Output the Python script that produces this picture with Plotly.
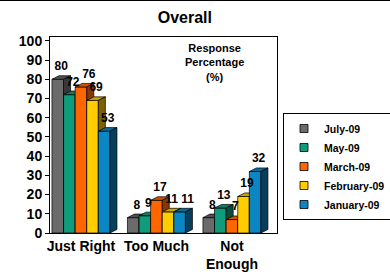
import plotly.graph_objects as go

categories = ["Just Right", "Too Much", "Not Enough"]
tick_labels = ["Just Right", "Too Much", "Not<br>Enough"]
series_names = ["July-09", "May-09", "March-09", "February-09", "January-09"]
july = [80, 8, 8]
may = [72, 9, 13]
march = [76, 17, 7]
february = [69, 11, 19]
january = [53, 11, 32]
series_values = [july, may, march, february, january]

front_colors = ["#6b6b6b", "#0f9b7c", "#ff6600", "#ffcc00", "#0a86c2"]
top_colors = ["#505050", "#0c7c63", "#cc5200", "#cca300", "#086b9b"]
side_colors = ["#383838", "#074d3e", "#8a3700", "#7a6200", "#053f5c"]

BAR_W = 0.1536
GROUP_START = -2.5 * BAR_W
DX = 0.093
DY = 1.85
FONT = "Arial, Liberation Sans, sans-serif"

# approximate pixel scale of the axes (for label collision avoidance)
PX_X = 75.5
PX_Y = 1.92

fig = go.Figure()

for k, (name, vals) in enumerate(zip(series_names, series_values)):
    fx, fy, tx, ty, sx, sy = [], [], [], [], [], []
    for i, v in enumerate(vals):
        x0 = i + GROUP_START + k * BAR_W
        x1 = x0 + BAR_W
        fx += [x0, x0, x1, x1, x0, None]
        fy += [0, v, v, 0, 0, None]
        tx += [x0, x0 + DX, x1 + DX, x1, x0, None]
        ty += [v, v + DY, v + DY, v, v, None]
        sx += [x1, x1 + DX, x1 + DX, x1, x1, None]
        sy += [0, DY, v + DY, v, 0, None]
    line = dict(color="black", width=0.7)
    fig.add_trace(go.Scatter(x=fx, y=fy, fill="toself", mode="lines", line=line,
                             fillcolor=front_colors[k], name=name, legendgroup=name,
                             showlegend=False, hoverinfo="skip"))
    fig.add_trace(go.Scatter(x=tx, y=ty, fill="toself", mode="lines", line=line,
                             fillcolor=top_colors[k], showlegend=False, legendgroup=name,
                             hoverinfo="skip"))
    fig.add_trace(go.Scatter(x=sx, y=sy, fill="toself", mode="lines", line=line,
                             fillcolor=side_colors[k], showlegend=False, legendgroup=name,
                             hoverinfo="skip"))

# value labels with simple collision avoidance (shift right on overlap)
label_x = [[0] * len(categories) for _ in series_names]
label_y = [[0] * len(categories) for _ in series_names]
for i in range(len(categories)):
    placed = []
    for k, vals in enumerate(series_values):
        v = vals[i]
        txt = str(v)
        w = (len(txt) * 7 + 1) / PX_X
        h = 11 / PX_Y
        cx = i + GROUP_START + (k + 0.5) * BAR_W + DX * 0.5
        yb = v + DY + 3 / PX_Y
        moved = True
        while moved:
            moved = False
            for (l, r, b, t) in placed:
                if cx - w / 2 < r and cx + w / 2 > l and yb < t and yb + h > b:
                    cx = r + w / 2 + 1 / PX_X
                    moved = True
        placed.append((cx - w / 2, cx + w / 2, yb, yb + h))
        label_x[k][i] = cx
        label_y[k][i] = yb + h / 2

for k, vals in enumerate(series_values):
    fig.add_trace(go.Scatter(x=label_x[k], y=label_y[k], mode="text",
                             text=[str(v) for v in vals], textposition="middle center",
                             textfont=dict(family=FONT, size=12, color="black", weight="bold"),
                             showlegend=False, hoverinfo="skip"))

# legend entries (small square swatches)
for k, name in enumerate(series_names):
    fig.add_trace(go.Scatter(x=[None], y=[None], mode="markers", name=name,
                             legendgroup=name,
                             marker=dict(symbol="square", size=8, color=front_colors[k],
                                         line=dict(color="black", width=0.8))))

fig.update_layout(
    width=390, height=278,
    margin=dict(l=50, r=113, t=37, b=45, autoexpand=False),
    paper_bgcolor="white", plot_bgcolor="white",
    font=dict(family=FONT, color="black"),
    title=dict(text="Overall", x=0.474, xanchor="center", y=1 - 17 / 278, yanchor="middle",
               font=dict(family=FONT, size=16, color="black", weight="bold")),
    xaxis=dict(range=[-0.41, 2.597], tickvals=[0, 1, 2], ticktext=tick_labels,
               tickangle=0, automargin=False,
               showgrid=False, zeroline=False, showline=True, linecolor="black",
               linewidth=1, mirror=True, ticks="",
               tickfont=dict(family=FONT, size=14, color="black", weight="bold")),
    yaxis=dict(range=[0, 102], tickvals=list(range(0, 101, 10)), automargin=False,
               showgrid=False, zeroline=False, showline=True, linecolor="black",
               linewidth=1, mirror=True, ticks="outside", ticklen=4, tickcolor="black",
               tickfont=dict(family=FONT, size=14, color="black", weight="bold")),
    legend=dict(x=(283 - 50) / 227, xanchor="left", y=(233 - 113) / 196, yanchor="top",
                bordercolor="black", borderwidth=1, bgcolor="white",
                font=dict(family=FONT, size=10.5, color="black", weight="bold"),
                itemwidth=30, tracegroupgap=0),
    showlegend=True,
)

fig.add_annotation(text="Response<br>Percentage<br>(%)", xref="paper", yref="paper",
                   x=(214 - 50) / 227, y=(233 - 40) / 196, xanchor="center", yanchor="top",
                   showarrow=False,
                   font=dict(family=FONT, size=11, color="black", weight="bold"))

fig.add_shape(type="line", xref="paper", yref="paper", x0=-0.3, x1=1.8,
              y0=(233 - 0.5) / 196, y1=(233 - 0.5) / 196,
              line=dict(color="black", width=1))

fig.write_html("out.html", config={"displayModeBar": False},
               post_script="document.body.style.margin='0';document.body.style.overflow='hidden';")
